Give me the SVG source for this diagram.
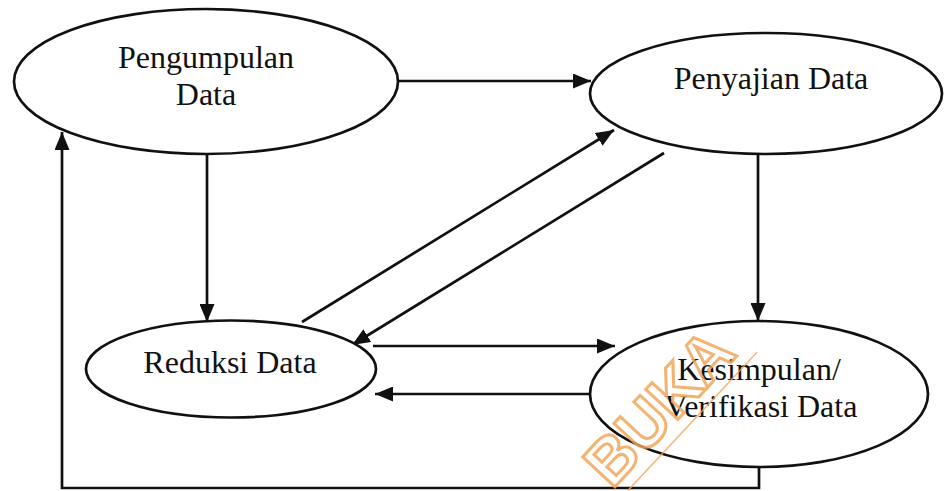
<svg xmlns="http://www.w3.org/2000/svg" width="944" height="491" viewBox="0 0 944 491">
  <style>
    .node ellipse { fill: #ffffff; stroke: #111111; stroke-width: 2.7; }
    .node text { font-family: "Liberation Serif", "Times New Roman", serif; font-size: 32px; fill: #111111; text-anchor: middle; }
    .edges line, .edges polyline { stroke: #111111; stroke-width: 2.7; fill: none; }
    .mark { font-family: "Liberation Sans", Arial, sans-serif; font-size: 64px; font-weight: bold; fill: none; stroke: #f2a65a; stroke-width: 3; opacity: 0.85; }
  </style>
  <defs>
    <marker id="head" viewBox="0 0 18 15" refX="18" refY="7.5" markerWidth="18" markerHeight="15" markerUnits="userSpaceOnUse" orient="auto">
      <path d="M0,0 L18,7.5 L0,15 Z" fill="#111111"/>
    </marker>
  </defs>
  <rect width="944" height="491" fill="#ffffff"/>

  <g class="edges">
    <line x1="398" y1="81" x2="591" y2="81" marker-end="url(#head)"/>
    <line x1="207" y1="154" x2="207" y2="322" marker-end="url(#head)"/>
    <line x1="302" y1="322" x2="614" y2="130" marker-end="url(#head)"/>
    <line x1="664" y1="153" x2="352" y2="345" marker-end="url(#head)"/>
    <line x1="373" y1="346" x2="615" y2="346" marker-end="url(#head)"/>
    <line x1="591" y1="394" x2="375" y2="394" marker-end="url(#head)"/>
    <line x1="758" y1="154" x2="758" y2="321" marker-end="url(#head)"/>
    <polyline points="759,467 759,488 62,488 62,132" marker-end="url(#head)"/>
  </g>

  <g id="pengumpulan" class="node">
    <ellipse cx="206" cy="81.5" rx="192" ry="72.5"/>
    <text x="206" y="68">Pengumpulan</text>
    <text x="206" y="105">Data</text>
  </g>
  <g id="penyajian" class="node">
    <ellipse cx="766" cy="93.5" rx="176" ry="60.5"/>
    <text x="771" y="89">Penyajian Data</text>
  </g>
  <g id="reduksi" class="node">
    <ellipse cx="231" cy="369" rx="145" ry="48.5"/>
    <text x="230" y="373">Reduksi Data</text>
  </g>
  <g id="kesimpulan" class="node">
    <ellipse cx="759" cy="394" rx="169" ry="73"/>
    <text x="759" y="380">Kesimpulan/</text>
    <text x="761" y="417">Verifikasi Data</text>
  </g>

  <!-- faint stamp across the lower right -->
  <g transform="translate(612,490) rotate(-47)">
    <text class="mark" x="0" y="0">BUKA</text>
    <line x1="10" y1="12" x2="200" y2="12" stroke="#f2a65a" stroke-width="1.5" opacity="0.8"/>
  </g>
</svg>
